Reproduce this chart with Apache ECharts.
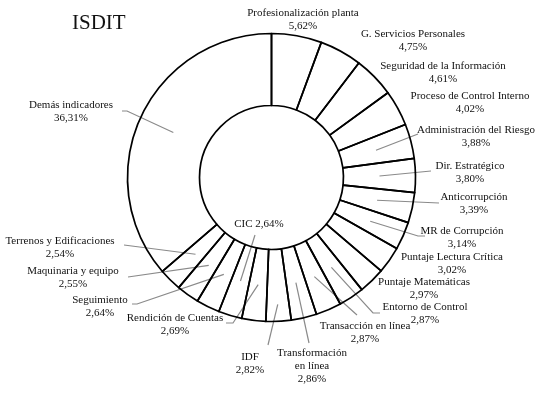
<!DOCTYPE html>
<html>
<head>
<meta charset="utf-8">
<style>html,body{margin:0;padding:0;background:#fff}#c{width:542px;height:395px}</style>
<script src="https://cdn.jsdelivr.net/npm/echarts@6/dist/echarts.min.js"></script>
</head>
<body>
<div id="c"></div>
<script>
const title = 'ISDIT';
const categories = [
  'Profesionalización planta', 'G. Servicios Personales', 'Seguridad de la Información',
  'Proceso de Control Interno', 'Administración del Riesgo', 'Dir. Estratégico',
  'Anticorrupción', 'MR de Corrupción', 'Puntaje Lectura Crítica', 'Puntaje Matemáticas',
  'Entorno de Control', 'Transacción en línea', 'Transformación\nen línea', 'IDF',
  'Rendición de Cuentas', 'CIC', 'Seguimiento', 'Maquinaria y equipo',
  'Terrenos y Edificaciones', 'Demás indicadores'
];
const values = [5.62, 4.75, 4.61, 4.02, 3.88, 3.80, 3.39, 3.14, 3.02, 2.97,
                2.87, 2.87, 2.86, 2.82, 2.69, 2.64, 2.64, 2.55, 2.54, 36.31];

// label layout (pixel positions of label centers and leader-line ends)
const labelCenters = [
  [303, 20], [413, 41], [443, 73], [470, 103], [476, 137], [470, 173],
  [474, 204], [462, 238], [452, 264], [424, 289], [425, 314], [365, 333],
  [312, 366], [250, 364], [175, 325], [259, 224], [100, 307], [73, 278],
  [60, 248], [71, 112]
];
const lineEnds = [
  null, null, null, null, [[418, 134]], [[431, 171]],
  [[439, 203]], [[418, 236], [425, 236]], null, null, [[373, 313], [380, 313]], [[357, 315]],
  [[309, 343]], [[268, 345]], [[233, 323], [226, 323]], [[255, 235]], [[137, 304], [132, 304]], [[128, 277]],
  [[124, 245]], [[127, 111], [122, 111]]
];

const CX = 271.5, CY = 177.5, R0 = 72, R1 = 144;
const total = values.reduce((a, b) => a + b, 0);
const midAngles = [];
{
  let acc = 0;
  values.forEach(v => { midAngles.push((acc + v / 2) / total * Math.PI * 2); acc += v; });
}

const fmt = v => v.toFixed(2).replace('.', ',') + '%';

const data = categories.map((name, i) => ({
  name: name,
  value: values[i],
  labelLine: { show: !!lineEnds[i] }
}));

const chart = echarts.init(document.getElementById('c'), null, { renderer: 'canvas' });
chart.setOption({
  backgroundColor: '#fff',
  animation: false,
  title: {
    text: title, left: 72, top: 13, padding: 0,
    textStyle: { fontFamily: 'Liberation Serif', fontSize: 21, fontWeight: 'normal', color: '#111' }
  },
  series: [{
    type: 'pie',
    center: [CX, CY],
    radius: [R0, R1],
    startAngle: 90,
    clockwise: true,
    avoidLabelOverlap: false,
    data: data,
    itemStyle: { color: 'rgba(255,255,255,0)', borderColor: '#000', borderWidth: 1.7 },
    emphasis: { disabled: true },
    label: {
      show: true,
      position: 'outside',
      fontFamily: 'Liberation Serif',
      fontSize: 11,
      lineHeight: 13,
      color: '#111',
      align: 'center',
      formatter: p => p.name === 'CIC' ? p.name + ' ' + fmt(p.value) : p.name + '\n' + fmt(p.value)
    },
    labelLine: { show: true, showAbove: true, lineStyle: { color: '#8a8a8a', width: 1.2 } },
    labelLayout: function (params) {
      const i = params.dataIndex;
      const c = labelCenters[i];
      const out = { x: c[0], y: c[1], align: 'center', verticalAlign: 'middle', hideOverlap: false };
      const ends = lineEnds[i];
      if (ends) {
        const r = categories[i] === 'IDF' ? 127 : 108;
        const a = midAngles[i];
        const start = [CX + r * Math.sin(a), CY - r * Math.cos(a)];
        const pts = [start].concat(ends);
        if (pts.length === 2) pts.splice(1, 0, ends[0]);
        out.labelLinePoints = pts;
      }
      return out;
    }
  }]
});
</script>
</body>
</html>
